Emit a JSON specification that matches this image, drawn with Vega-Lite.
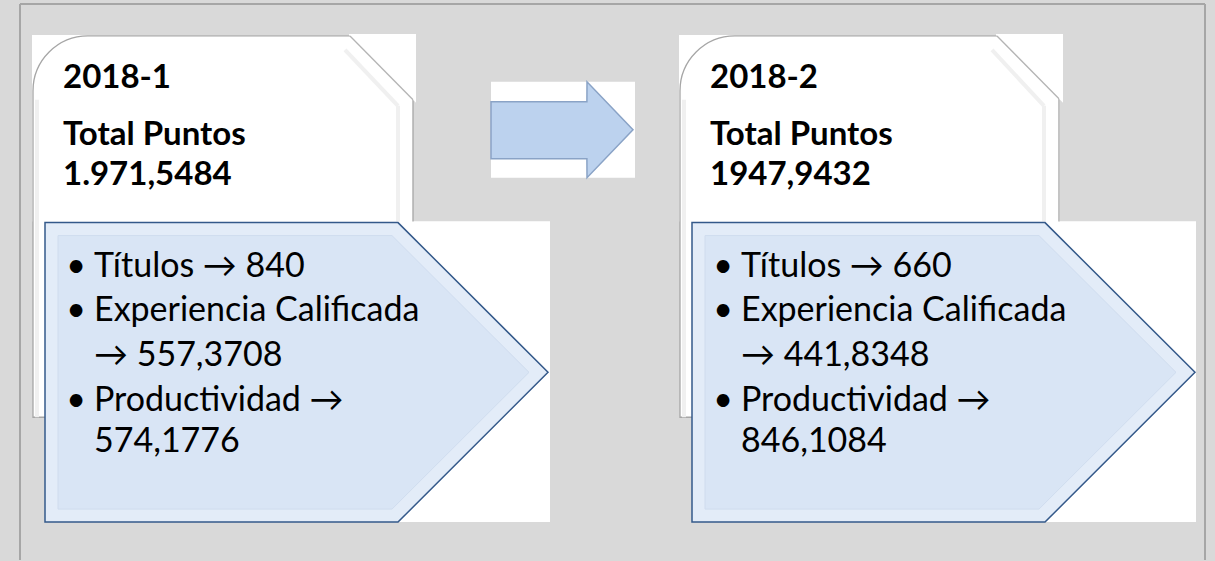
{
  "$schema": "https://vega.github.io/schema/vega-lite/v6.json",
  "width": 1215,
  "height": 561,
  "autosize": {"type": "fit", "contains": "padding"},
  "padding": 0,
  "background": "#d9d9d9",
  "config": {"view": {"stroke": null}},
  "datasets": {
    "frame": [
      {"x": 20, "y": 4, "x2": 20, "y2": 561},
      {"x": 20, "y": 4, "x2": 1205, "y2": 4},
      {"x": 1205, "y": 4, "x2": 1205, "y2": 561}
    ],
    "whitebg": [
      {"x": 32, "x2": 413, "y": 35, "y2": 222},
      {"x": 45, "x2": 550, "y": 222, "y2": 523},
      {"x": 679, "x2": 1060, "y": 35, "y2": 222},
      {"x": 692, "x2": 1196, "y": 222, "y2": 523},
      {"x": 491, "x2": 635, "y": 82, "y2": 178}
    ],
    "cards": [
      {"panel": "2018-1", "x": 33, "x2": 413, "y": 36, "y2": 418},
      {"panel": "2018-2", "x": 680, "x2": 1059, "y": 36, "y2": 418}
    ],
    "corners": [
      {"panel": "2018-1", "x": 349, "y": 34, "y2": 35},
      {"panel": "2018-1", "x": 416, "y": 34, "y2": 103},
      {"panel": "2018-2", "x": 996, "y": 34, "y2": 35},
      {"panel": "2018-2", "x": 1063, "y": 34, "y2": 103}
    ],
    "edges": [
      {"kind": "diag", "x": 350, "y": 36, "x2": 413, "y2": 100},
      {"kind": "diag", "x": 997, "y": 36, "x2": 1059, "y2": 99},
      {"kind": "inner", "x": 345, "y": 50, "x2": 398, "y2": 106},
      {"kind": "inner", "x": 398, "y": 106, "x2": 398, "y2": 418},
      {"kind": "inner", "x": 992, "y": 50, "x2": 1044, "y2": 106},
      {"kind": "inner", "x": 1044, "y": 106, "x2": 1044, "y2": 418},
      {"kind": "inner", "x": 37, "y": 100, "x2": 37, "y2": 418},
      {"kind": "inner", "x": 684, "y": 100, "x2": 684, "y2": 418}
    ],
    "pentagons": [
      {"panel": "2018-1", "x": 45, "y": 223, "y2": 523},
      {"panel": "2018-1", "x": 398, "y": 223, "y2": 523},
      {"panel": "2018-1", "x": 548, "y": 373, "y2": 373},
      {"panel": "2018-2", "x": 692, "y": 223, "y2": 523},
      {"panel": "2018-2", "x": 1045, "y": 223, "y2": 523},
      {"panel": "2018-2", "x": 1195, "y": 373, "y2": 373}
    ],
    "innerpentagons": [
      {"panel": "2018-1", "x": 58, "y": 236, "y2": 510},
      {"panel": "2018-1", "x": 392, "y": 236, "y2": 510},
      {"panel": "2018-1", "x": 529, "y": 373, "y2": 373},
      {"panel": "2018-2", "x": 705, "y": 236, "y2": 510},
      {"panel": "2018-2", "x": 1039, "y": 236, "y2": 510},
      {"panel": "2018-2", "x": 1176, "y": 373, "y2": 373}
    ],
    "arrow": [
      {"x": 491, "y": 102, "y2": 159},
      {"x": 586.9, "y": 102, "y2": 159},
      {"x": 587, "y": 82, "y2": 178},
      {"x": 633, "y": 130, "y2": 130}
    ],
    "headers": [
      {"panel": "2018-1", "x": 63, "y": 88, "text": "2018-1"},
      {"panel": "2018-1", "x": 63, "y": 145, "text": "Total Puntos"},
      {"panel": "2018-1", "x": 63, "y": 185, "text": "1.971,5484"},
      {"panel": "2018-2", "x": 710, "y": 88, "text": "2018-2"},
      {"panel": "2018-2", "x": 710, "y": 145, "text": "Total Puntos"},
      {"panel": "2018-2", "x": 710, "y": 185, "text": "1947,9432"}
    ],
    "lines": [
      {"panel": "2018-1", "x": 94, "y": 277, "bullet": true, "text": "Títulos → 840"},
      {"panel": "2018-1", "x": 94, "y": 322, "bullet": true, "text": "Experiencia Calificada"},
      {"panel": "2018-1", "x": 94, "y": 367, "bullet": false, "text": "→ 557,3708"},
      {"panel": "2018-1", "x": 94, "y": 412, "bullet": true, "text": "Productividad →"},
      {"panel": "2018-1", "x": 94, "y": 453, "bullet": false, "text": "574,1776"},
      {"panel": "2018-2", "x": 741, "y": 277, "bullet": true, "text": "Títulos → 660"},
      {"panel": "2018-2", "x": 741, "y": 322, "bullet": true, "text": "Experiencia Calificada"},
      {"panel": "2018-2", "x": 741, "y": 367, "bullet": false, "text": "→ 441,8348"},
      {"panel": "2018-2", "x": 741, "y": 412, "bullet": true, "text": "Productividad →"},
      {"panel": "2018-2", "x": 741, "y": 453, "bullet": false, "text": "846,1084"}
    ]
  },
  "layer": [
    {
      "data": {"name": "frame"},
      "mark": {"type": "rule", "color": "#a6a6a6", "strokeWidth": 2},
      "encoding": {
        "x": {"field": "x", "type": "quantitative", "scale": {"domain": [0, 1215], "nice": false, "zero": false}, "axis": null},
        "y": {"field": "y", "type": "quantitative", "scale": {"domain": [0, 561], "nice": false, "zero": false, "reverse": true}, "axis": null},
        "x2": {"field": "x2"},
        "y2": {"field": "y2"}
      }
    },
    {
      "data": {"name": "whitebg"},
      "mark": {"type": "rect", "color": "#ffffff"},
      "encoding": {
        "x": {"field": "x", "type": "quantitative"},
        "x2": {"field": "x2"},
        "y": {"field": "y", "type": "quantitative"},
        "y2": {"field": "y2"}
      }
    },
    {
      "data": {"name": "cards"},
      "mark": {"type": "rect", "fill": "#ffffff", "stroke": "#a6a6a6", "strokeWidth": 1.3, "cornerRadiusTopLeft": 55},
      "encoding": {
        "x": {"field": "x", "type": "quantitative"},
        "x2": {"field": "x2"},
        "y": {"field": "y", "type": "quantitative"},
        "y2": {"field": "y2"}
      }
    },
    {
      "data": {"name": "edges"},
      "transform": [{"filter": "datum.kind == 'inner'"}],
      "mark": {"type": "rule", "color": "#f0f0f0", "strokeWidth": 4},
      "encoding": {
        "x": {"field": "x", "type": "quantitative"},
        "x2": {"field": "x2"},
        "y": {"field": "y", "type": "quantitative"},
        "y2": {"field": "y2"}
      }
    },
    {
      "data": {"name": "corners"},
      "mark": {"type": "area", "orient": "vertical", "fill": "#ffffff"},
      "encoding": {
        "x": {"field": "x", "type": "quantitative"},
        "y": {"field": "y", "type": "quantitative"},
        "y2": {"field": "y2"},
        "detail": {"field": "panel"}
      }
    },
    {
      "data": {"name": "edges"},
      "transform": [{"filter": "datum.kind == 'diag'"}],
      "mark": {"type": "rule", "color": "#b4b4b4", "strokeWidth": 1.3},
      "encoding": {
        "x": {"field": "x", "type": "quantitative"},
        "x2": {"field": "x2"},
        "y": {"field": "y", "type": "quantitative"},
        "y2": {"field": "y2"}
      }
    },
    {
      "data": {"name": "whitebg"},
      "transform": [{"filter": "datum.y == 222"}],
      "mark": {"type": "rect", "color": "#ffffff"},
      "encoding": {
        "x": {"field": "x", "type": "quantitative"},
        "x2": {"field": "x2"},
        "y": {"field": "y", "type": "quantitative"},
        "y2": {"field": "y2"}
      }
    },
    {
      "data": {"name": "pentagons"},
      "mark": {"type": "area", "orient": "vertical", "fill": "#e3ecf8", "stroke": "#34598a", "strokeWidth": 1.5},
      "encoding": {
        "x": {"field": "x", "type": "quantitative"},
        "y": {"field": "y", "type": "quantitative"},
        "y2": {"field": "y2"},
        "detail": {"field": "panel"}
      }
    },
    {
      "data": {"name": "innerpentagons"},
      "mark": {"type": "area", "orient": "vertical", "fill": "#d9e5f5", "stroke": "#cfdcee", "strokeWidth": 1},
      "encoding": {
        "x": {"field": "x", "type": "quantitative"},
        "y": {"field": "y", "type": "quantitative"},
        "y2": {"field": "y2"},
        "detail": {"field": "panel"}
      }
    },
    {
      "data": {"name": "arrow"},
      "mark": {"type": "area", "orient": "vertical", "fill": "#bcd2ee", "stroke": "#8aa3c6", "strokeWidth": 1.5},
      "encoding": {
        "x": {"field": "x", "type": "quantitative"},
        "y": {"field": "y", "type": "quantitative"},
        "y2": {"field": "y2"}
      }
    },
    {
      "data": {"name": "headers"},
      "mark": {"type": "text", "align": "left", "baseline": "alphabetic", "font": "Lato", "fontWeight": "bold", "fontSize": 33, "color": "#000000"},
      "encoding": {
        "x": {"field": "x", "type": "quantitative"},
        "y": {"field": "y", "type": "quantitative"},
        "text": {"field": "text"}
      }
    },
    {
      "data": {"name": "lines"},
      "mark": {"type": "text", "align": "left", "baseline": "alphabetic", "font": "Lato", "fontSize": 34, "color": "#000000"},
      "encoding": {
        "x": {"field": "x", "type": "quantitative"},
        "y": {"field": "y", "type": "quantitative"},
        "text": {"field": "text"}
      }
    },
    {
      "data": {"name": "lines"},
      "transform": [{"filter": "datum.bullet"}],
      "mark": {"type": "text", "align": "right", "baseline": "alphabetic", "font": "Lato", "fontSize": 34, "color": "#000000", "dx": -8},
      "encoding": {
        "x": {"field": "x", "type": "quantitative"},
        "y": {"field": "y", "type": "quantitative"},
        "text": {"value": "•"}
      }
    }
  ]
}
